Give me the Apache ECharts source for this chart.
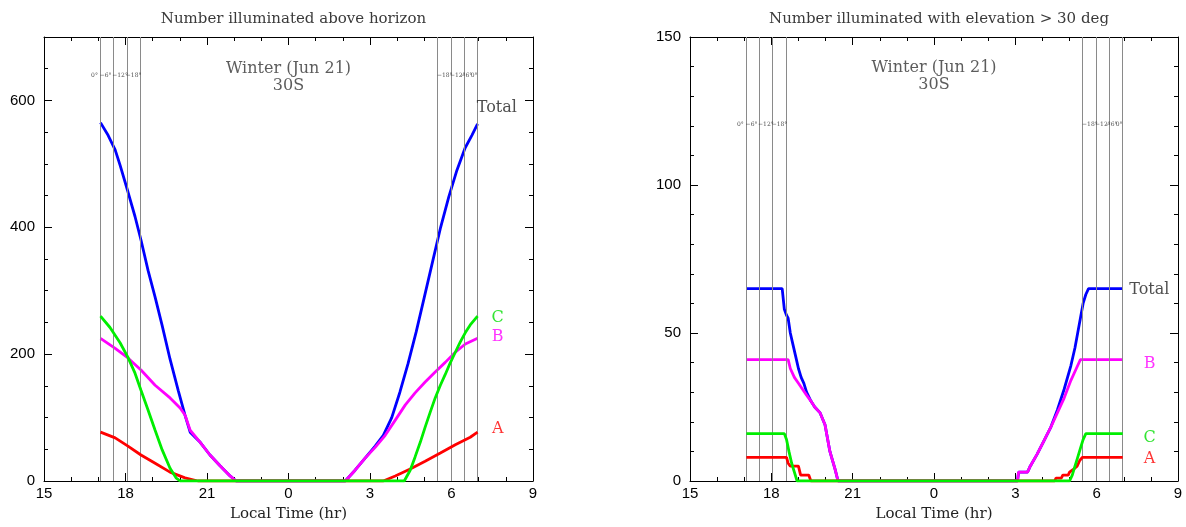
<!DOCTYPE html>
<html><head><meta charset="utf-8">
<script src="https://cdn.jsdelivr.net/npm/echarts@6/dist/echarts.min.js"></script>
<style>html,body{margin:0;padding:0;background:#fff}#c{width:1186px;height:527px}</style>
</head><body><div id="c"></div>
<script>
// ---------- data (x = hour, 24 = midnight; values = number illuminated) ----------
const xTickHours = [15, 18, 21, 24, 27, 30, 33];
const leftTitle = 'Number illuminated above horizon';
const rightTitle = 'Number illuminated with elevation > 30 deg';
const seasonText = ['Winter (Jun 21)', '30S'];
const xName = 'Local Time (hr)';

const leftTotal = [[17.08,565],[17.36,545],[17.62,522],[17.80,498],[18.09,456],[18.35,417],[18.57,380],[18.83,332],[19.09,290],[19.35,245],[19.64,192],[19.94,143],[20.19,104],[20.38,77],[20.75,61],[21.11,41],[21.48,24],[21.85,8],[22.07,0],[26.09,0],[26.45,17],[26.82,36],[27.19,55],[27.49,72],[27.8,100],[28.1,140],[28.4,185],[28.7,235],[29.0,290],[29.3,345],[29.6,400],[29.9,448],[30.2,490],[30.5,525],[30.75,545],[30.96,563]];
const leftB = [[17.08,225],[17.62,209],[18.09,194],[18.57,175],[19.09,151],[19.64,131],[20.01,115],[20.19,104],[20.38,80],[20.75,61],[21.11,41],[21.48,24],[21.85,8],[22.07,0],[26.09,0],[26.45,17],[26.82,36],[27.19,53],[27.56,72],[27.93,96],[28.3,120],[28.66,139],[29.03,156],[29.4,172],[29.77,187],[30.14,203],[30.51,216],[30.96,225]];
const leftC = [[17.08,260],[17.43,242],[17.80,218],[18.09,195],[18.35,170],[18.57,143],[18.83,112],[19.09,80],[19.35,49],[19.64,20],[19.86,5],[20.01,0],[28.26,0],[28.48,17],[28.66,38],[28.85,61],[29.03,85],[29.22,109],[29.40,131],[29.59,151],[29.77,168],[29.95,186],[30.14,203],[30.32,219],[30.51,234],[30.69,246],[30.96,260]];
const leftA = [[17.08,77],[17.62,68],[18.09,55],[18.57,41],[19.09,28],[19.64,14],[20.19,5],[20.67,0],[27.49,0],[27.93,8],[28.48,19],[29.03,31],[29.59,44],[30.14,57],[30.69,69],[30.96,77]];

const rightTotal = [[17.08,65],[18.40,65],[18.48,58],[18.56,56],[18.62,55],[18.70,50],[18.80,46],[18.90,42],[19.00,38],[19.10,35],[19.20,33],[19.30,30],[19.46,27],[19.60,25],[19.80,23],[19.98,19],[20.16,10],[20.35,4],[20.46,0],[27.08,0],[27.12,3],[27.45,3],[27.55,5],[27.80,9],[28.05,13.5],[28.30,18],[28.55,24],[28.80,31],[29.05,39],[29.20,45],[29.30,50],[29.40,55],[29.50,60],[29.60,63],[29.70,65],[30.96,65]];
const rightB = [[17.08,41],[18.62,41],[18.70,38],[18.85,35],[19.00,33],[19.15,31],[19.30,29],[19.46,27],[19.60,25],[19.80,23],[19.98,19],[20.16,10],[20.35,4],[20.46,0],[27.08,0],[27.12,3],[27.45,3],[27.55,5],[27.80,9],[28.05,13.5],[28.30,18],[28.55,23],[28.80,28],[29.05,34],[29.25,38],[29.40,41],[30.96,41]];
const rightC = [[17.08,16],[18.48,16],[18.56,14],[18.65,10],[18.75,6],[18.85,3],[18.95,0],[29.00,0],[29.10,2],[29.20,5],[29.30,8],[29.40,11],[29.50,14],[29.60,16],[30.96,16]];
const rightA = [[17.08,8],[18.56,8],[18.62,6],[18.70,5],[19.00,5],[19.08,2],[19.38,2],[19.46,0],[28.45,0],[28.50,1],[28.70,1],[28.75,2],[28.95,2],[29.00,3],[29.15,4],[29.28,5],[29.38,7],[29.48,8],[30.96,8]];

// twilight lines (sun elevation) and their labels
const twilightHours = [17.08, 17.55, 18.05, 18.56, 29.48, 29.98, 30.47, 30.96];
const twilightLabelHours = [16.86, 17.27, 17.80, 18.30, 29.75, 30.23, 30.55, 30.83];
const twilightLabels = ['0°', '−6°', '−12°', '−18°', '−18°', '−12°', '−6°', '0°'];

// series-name labels [x, y, text]
const leftNameLabels = [[30.93, 588, 'Total'], [31.7, 258, 'C'], [31.7, 228, 'B'], [31.7, 82, 'A']];
const rightNameLabels = [[31.2, 64.5, 'Total'], [31.95, 39.5, 'B'], [31.95, 14.5, 'C'], [31.95, 7.4, 'A']];
const nameColors = {Total: '#222', A: '#ff0000', B: '#ff00ff', C: '#00dd00'};

// ---------- chart ----------
const SERIF = '"DejaVu Serif", "Liberation Serif", serif';
const SANS = '"Liberation Sans", Arial, sans-serif';
const colors = {Total: '#0000ff', B: '#ff00ff', A: '#ff0000', C: '#00ee00'};

const panels = [
  {left: 44, width: 489, yMax: 700, yInt: 200, ySplit: 4, title: leftTitle,
   series: {Total: leftTotal, B: leftB, A: leftA, C: leftC}, names: leftNameLabels,
   degY: 639, seasonY: 637},
  {left: 690, width: 488, yMax: 150, yInt: 50, ySplit: 5, title: rightTitle,
   series: {Total: rightTotal, B: rightB, A: rightA, C: rightC}, names: rightNameLabels,
   degY: 120.3, seasonY: 136.7}
];

const grid = [], xAxis = [], yAxis = [], series = [], title = [];
const tickLine = {color: '#000', width: 1};
panels.forEach((p, i) => {
  grid.push({left: p.left, top: 37, width: p.width, height: 444});
  const gi = i;
  const xBase = {type: 'value', gridIndex: gi, min: 15, max: 33, interval: 3,
    axisLine: {show: true, onZero: false, lineStyle: tickLine},
    axisTick: {show: true, inside: true, length: 8, lineStyle: tickLine},
    minorTick: {show: true, splitNumber: 3, length: 4, lineStyle: tickLine},
    splitLine: {show: false}};
  xAxis.push(Object.assign({}, xBase, {position: 'bottom',
    axisLabel: {formatter: v => String(v % 24), fontFamily: SANS, fontSize: 15, color: '#000', margin: 5},
    name: xName, nameLocation: 'middle', nameGap: 26,
    nameTextStyle: {fontFamily: SERIF, fontSize: 15, color: '#222'}}));
  xAxis.push(Object.assign({}, xBase, {position: 'top', axisLabel: {show: false}}));
  const yBase = {type: 'value', gridIndex: gi, min: 0, max: p.yMax, interval: p.yInt,
    axisLine: {show: true, onZero: false, lineStyle: tickLine},
    axisTick: {show: true, inside: true, length: 8, lineStyle: tickLine},
    minorTick: {show: true, splitNumber: p.ySplit, length: 4, lineStyle: tickLine},
    splitLine: {show: false}};
  yAxis.push(Object.assign({}, yBase, {position: 'left',
    axisLabel: {fontFamily: SANS, fontSize: 15, color: '#000', margin: 9, showMaxLabel: i === 1,
      formatter: v => (v % p.yInt === 0 ? String(v) : '')}}));
  yAxis.push(Object.assign({}, yBase, {position: 'right', axisLabel: {show: false}}));
  const xi = i * 2, yi = i * 2;
  title.push({text: p.title, left: p.left + p.width * 0.5, top: 7, textAlign: 'center',
    textStyle: {fontFamily: SERIF, fontSize: 15, fontWeight: 'normal', color: '#3a3a3a'}});

  // twilight lines
  series.push({type: 'line', xAxisIndex: xi, yAxisIndex: yi, data: [], silent: true, z: 1,
    markLine: {silent: true, symbol: ['none', 'none'], animation: false,
      lineStyle: {color: '#8a8a8a', width: 1, type: 'solid'}, label: {show: false},
      data: twilightHours.map(h => ({xAxis: h}))}});
  // data series
  ['Total', 'B', 'A', 'C'].forEach((k, j) => {
    series.push({type: 'line', name: k, xAxisIndex: xi, yAxisIndex: yi, data: p.series[k],
      showSymbol: false, symbol: 'none', z: 3 + j,
      lineStyle: {color: colors[k], width: 2.8}});
  });
  // twilight labels
  series.push({type: 'scatter', xAxisIndex: xi, yAxisIndex: yi, symbolSize: 0, z: 10, silent: true,
    data: twilightLabelHours.map((h, k) => [h, p.degY, twilightLabels[k]]),
    label: {show: true, position: 'inside', formatter: q => q.data[2], fontFamily: SERIF,
      fontSize: 6, color: '#222'}});
  // season annotation
  series.push({type: 'scatter', xAxisIndex: xi, yAxisIndex: yi, symbolSize: 0, z: 10, silent: true,
    data: [[24, p.seasonY, seasonText.join('\n')]],
    label: {show: true, position: 'inside', formatter: q => q.data[2], fontFamily: SERIF,
      fontSize: 16, lineHeight: 17, color: '#333', align: 'center'}});
  // series name labels
  series.push({type: 'scatter', xAxisIndex: xi, yAxisIndex: yi, symbolSize: 0, z: 10, silent: true,
    data: p.names.map(n => ({value: n, label: {align: n[2] === 'Total' ? 'left' : 'center',
      color: nameColors[n[2]]}})),
    label: {show: true, position: 'inside', formatter: q => q.data.value[2], fontFamily: SERIF,
      fontSize: 16}});
});

const chart = echarts.init(document.getElementById('c'), null, {renderer: 'canvas'});
chart.setOption({animation: false, backgroundColor: '#fff', title, grid, xAxis, yAxis, series});
</script>
</body></html>
